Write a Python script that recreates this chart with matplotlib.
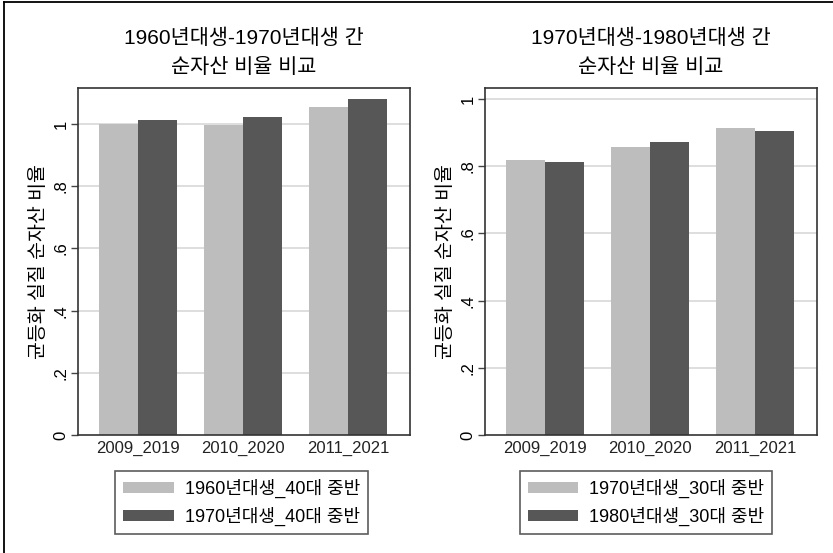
import matplotlib
matplotlib.use("Agg")
import matplotlib.pyplot as plt
from matplotlib.lines import Line2D
import numpy as np

plt.rcParams['font.family'] = ['Liberation Sans', 'Noto Sans CJK KR', 'DejaVu Sans']

# data
periods = ['2009_2019', '2010_2020', '2011_2021']
left_title = '1960년대생-1970년대생 간\n순자산 비율 비교'
right_title = '1970년대생-1980년대생 간\n순자산 비율 비교'
left_labels = ['1960년대생_40대 중반', '1970년대생_40대 중반']
right_labels = ['1970년대생_30대 중반', '1980년대생_30대 중반']
left_a = [1.000, 0.997, 1.055]
left_b = [1.013, 1.023, 1.080]
right_a = [0.818, 0.857, 0.914]
right_b = [0.812, 0.872, 0.905]
ylabel = '균등화 실질 순자산 비율'
yticks = [0, 0.2, 0.4, 0.6, 0.8, 1.0]
yticklabels = ['0', '.2', '.4', '.6', '.8', '1']

light = '#bdbdbd'
dark = '#575757'

W, H = 833, 553
fig = plt.figure(figsize=(W / 100, H / 100), dpi=100)

def px(l, t, r, b):
    return [l / W, 1 - b / H, (r - l) / W, (b - t) / H]

def panel(rect, a, b, ymax, title, labels, leg_rect):
    ax = fig.add_axes(rect)
    x = np.arange(len(periods))
    w = 0.37
    ha = ax.bar(x - w / 2, a, w, color=light, zorder=2, label=labels[0])
    hb = ax.bar(x + w / 2, b, w, color=dark, zorder=2, label=labels[1])
    ax.set_xlim(-0.57, 2.59)
    ax.set_ylim(0, ymax)
    ax.set_yticks(yticks)
    ax.set_yticklabels(yticklabels, rotation=90, va='center', fontsize=12)
    for t in yticks[1:]:
        ax.axhline(t, color='#d4d4d4', lw=1.1, zorder=1)
    ax.set_xticks(x)
    ax.set_xticklabels(periods, fontsize=12, color='#222222')
    ax.tick_params(axis='x', length=0, pad=4)
    ax.tick_params(axis='y', length=5, width=1, color='#444444', pad=2)
    for s in ax.spines.values():
        s.set_color('#333333')
        s.set_linewidth(1.2)
    ax.set_ylabel(ylabel, fontsize=14, labelpad=4)
    ax.set_title(title, fontsize=15, pad=11, linespacing=1.65)
    leg = fig.legend(handles=[ha, hb], labels=labels, loc='center',
                     bbox_to_anchor=leg_rect, fontsize=13, frameon=True,
                     fancybox=False, edgecolor='#333333', handlelength=2.8,
                     handleheight=0.55, handletextpad=0.6, labelspacing=0.45,
                     borderpad=0.45)
    leg.get_frame().set_linewidth(1.2)
    return ax

panel(px(78, 88, 410, 435), left_a, left_b, 1.116, left_title, left_labels,
      (88 / W, 1 - 532 / H, 307 / W, 59 / H))
panel(px(485, 88, 817, 435), right_a, right_b, 1.033, right_title, right_labels,
      (495 / W, 1 - 532 / H, 302 / W, 59 / H))

# outer frame (top and left edges)
fig.add_artist(Line2D([4 / W, 4 / W], [0, 1 - 1.5 / H], color='black', lw=1.3))
fig.add_artist(Line2D([4 / W, 1], [1 - 1.5 / H, 1 - 1.5 / H], color='black', lw=1.3))

fig.savefig('out.png', dpi=100)
